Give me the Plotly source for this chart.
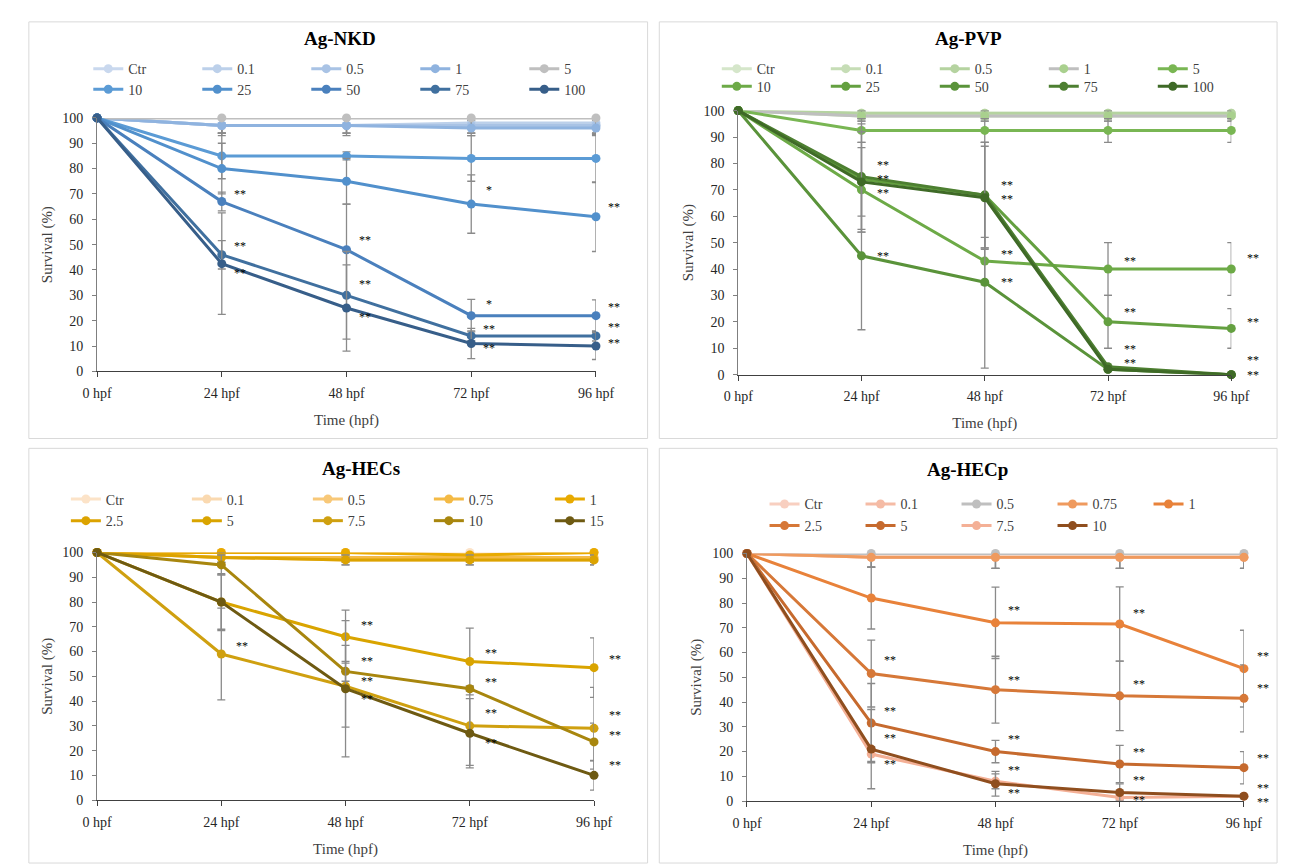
import plotly.graph_objects as go

W, H = 1290, 864
TIMES = ["0 hpf", "24 hpf", "48 hpf", "72 hpf", "96 hpf"]
XI = [0, 1, 2, 3, 4]

# ---------------- Ag-NKD ----------------
nkd_names = ["Ctr", "0.1", "0.5", "1", "5", "10", "25", "50", "75", "100"]
nkd_vals = [
    [100, 97, 97, 97, 97],
    [100, 97, 97, 98, 98],
    [100, 97, 97, 97, 97],
    [100, 97, 97, 96, 96],
    [100, 100, 100, 100, 100],
    [100, 85, 85, 84, 84],
    [100, 80, 75, 66, 61],
    [100, 67, 48, 22, 22],
    [100, 46, 30, 14, 14],
    [100, 42.5, 25, 11, 10],
]
nkd_err = [
    [0, 3, 3, 3, 3],
    [0, 4, 4, 4, 4],
    [0, 3, 3, 3, 3],
    [0, 3, 3, 3, 3],
    [0, 0, 0, 0, 0],
    [0, 9, 1.6, 9, 9.5],
    [0, 10, 9, 11.5, 13.7],
    [0, 3.7, 18, 6.4, 6.2],
    [0, 5.6, 17.3, 2, 2],
    [0, 20, 17, 6, 5.3],
]
nkd_line = ["#C9D8EE", "#BCD0EA", "#A9C3E5", "#8FB3DF", "#BFBFBF",
            "#5B9BD5", "#5190CC", "#4A80BD", "#40709F", "#375E89"]
nkd_marker = nkd_line
nkd_stars = [(1, 70.8, "**"), (1, 50.1, "**"), (1, 39.5, "**"),
             (2, 52.5, "**"), (2, 35.3, "**"), (2, 22.4, "**"),
             (3, 72.4, "*"), (3, 27.5, "*"), (3, 17.4, "**"), (3, 10.1, "**"),
             (4, 65.6, "**"), (4, 26.2, "**"), (4, 18.5, "**"), (4, 12.0, "**")]

# ---------------- Ag-PVP ----------------
pvp_names = ["Ctr", "0.1", "0.5", "1", "5", "10", "25", "50", "75", "100"]
pvp_vals = [
    [100, 99, 99, 99, 99],
    [100, 98, 98, 98, 98],
    [100, 99, 99, 99, 99],
    [100, 98, 98, 98, 98],
    [100, 92.5, 92.5, 92.5, 92.5],
    [100, 70, 43, 40, 40],
    [100, 74, 68, 20, 17.5],
    [100, 45, 35, 2, 0],
    [100, 75, 68, 3, 0],
    [100, 73, 67, 2, 0],
]
pvp_err = [
    [0, 2, 2, 2, 2],
    [0, 2, 2, 2, 2],
    [0, 2, 2, 2, 2],
    [0, 2, 2, 2, 2],
    [0, 4.5, 4.5, 4.5, 4.5],
    [0, 16, 9, 10, 10],
    [0, 14, 20, 10, 7.5],
    [0, 28, 32.5, 0, 0],
    [0, 20, 20, 0, 0],
    [0, 19, 19.5, 0, 0],
]
pvp_line = ["#D5E6CA", "#C6DDB6", "#B5D3A0", "#BFBFBF", "#79B653",
            "#6DAA47", "#64A040", "#5A933A", "#4D7F31", "#3F6A27"]
pvp_marker = ["#D5E6CA", "#C6DDB6", "#B5D3A0", "#A9D08E", "#79B653",
              "#6DAA47", "#64A040", "#5A933A", "#4D7F31", "#3F6A27"]
pvp_stars = [(1, 80.0, "**"), (1, 74.8, "**"), (1, 69.6, "**"), (1, 45.7, "**"),
             (2, 72.7, "**"), (2, 67.1, "**"), (2, 46.6, "**"), (2, 35.7, "**"),
             (3, 43.8, "**"), (3, 24.3, "**"), (3, 10.6, "**"), (3, 5.0, "**"),
             (4, 44.8, "**"), (4, 20.8, "**"), (4, 6.4, "**"), (4, 0.8, "**")]

# ---------------- Ag-HECs ----------------
hecs_names = ["Ctr", "0.1", "0.5", "0.75", "1", "2.5", "5", "7.5", "10", "15"]
hecs_vals = [
    [100, 100, 100, 100, 100],
    [100, 100, 100, 99, 100],
    [100, 98, 97, 97, 97],
    [100, 98, 98, 98, 98],
    [100, 100, 100, 99, 100],
    [100, 98, 97, 97, 97],
    [100, 80, 66, 56, 53.5],
    [100, 59, 46, 30, 29],
    [100, 95, 52, 45, 23.5],
    [100, 80, 45, 27, 10],
]
hecs_err = [
    [0, 2, 2, 2, 2],
    [0, 2, 2, 2, 2],
    [0, 2, 2, 2, 2],
    [0, 2, 2, 2, 2],
    [0, 2, 2, 2, 2],
    [0, 2, 2, 2, 2],
    [0, 11, 10.7, 13.5, 12],
    [0, 18.5, 16.5, 16, 16.5],
    [0, 4, 4, 1, 7.6],
    [0, 11.5, 27.5, 14, 6],
]
hecs_line = ["#FCE3C8", "#FAD9B0", "#F8C878", "#F4BA45", "#E8AA00",
             "#DCA300", "#D9A400", "#CFA010", "#A8860E", "#6E5A12"]
hecs_marker = hecs_line
hecs_stars = [(1, 63.2, "**"),
              (2, 71.4, "**"), (2, 57.0, "**"), (2, 49.1, "**"), (2, 41.8, "**"),
              (3, 60.2, "**"), (3, 48.4, "**"), (3, 35.8, "**"), (3, 23.9, "**"),
              (4, 57.9, "**"), (4, 35.0, "**"), (4, 27.1, "**"), (4, 14.9, "**")]

# ---------------- Ag-HECp ----------------
hecp_names = ["Ctr", "0.1", "0.5", "0.75", "1", "2.5", "5", "7.5", "10"]
hecp_vals = [
    [100, 98.5, 98.5, 98.5, 98.5],
    [100, 98.5, 98.5, 98.5, 98.5],
    [100, 100, 100, 100, 100],
    [100, 98.5, 98.5, 98.5, 98.5],
    [100, 82, 72, 71.5, 53.5],
    [100, 51.5, 45, 42.5, 41.5],
    [100, 31.5, 20, 15, 13.5],
    [100, 19, 8, 1.5, 2],
    [100, 21, 7, 3.5, 2],
]
hecp_err = [
    [0, 4, 4.5, 4.5, 4.5],
    [0, 4, 4.5, 4.5, 4.5],
    [0, 0, 0, 0, 0],
    [0, 4, 4.5, 4.5, 4.5],
    [0, 12.5, 14.4, 15, 15.5],
    [0, 13.5, 13.5, 14, 13.5],
    [0, 16, 4.5, 7.5, 6.5],
    [0, 3, 3, 1, 1],
    [0, 16, 5, 3.5, 1],
]
hecp_line = ["#F8CFC0", "#F5BBA5", "#BFBFBF", "#EF9A5E", "#E8823A",
             "#D67838", "#C66A2E", "#F4B096", "#8F4E1E"]
hecp_marker = hecp_line
hecp_stars = [(1, 57.9, "**"), (1, 37.1, "**"), (1, 26.2, "**"), (1, 15.9, "**"),
              (2, 77.9, "**"), (2, 49.7, "**"), (2, 25.8, "**"), (2, 13.5, "**"), (2, 4.2, "**"),
              (3, 76.8, "**"), (3, 48.1, "**"), (3, 20.5, "**"), (3, 9.3, "**"), (3, 1.3, "**"),
              (4, 59.3, "**"), (4, 46.6, "**"), (4, 18.3, "**"), (4, 6.2, "**"), (4, 0.4, "**")]

SERIF = "Liberation Serif, Times New Roman, serif"


def px_x(p):
    return p / W


def px_y(p):
    return 1 - p / H


panels = [
    dict(title="Ag-NKD", names=nkd_names, vals=nkd_vals, err=nkd_err,
         line=nkd_line, marker=nkd_marker, stars=nkd_stars,
         box=(76, 588, 104.7, 362.7), tpos=(325, 24),
         leg=(67, (55, 76), 64), border=(6, 641, 7, 431), sx=18),
    dict(title="Ag-PVP", names=pvp_names, vals=pvp_vals, err=pvp_err,
         line=pvp_line, marker=pvp_marker, stars=pvp_stars,
         box=(734, 1240, 97.3, 366), tpos=(970, 24),
         leg=(712, (55, 73), 64), border=(653, 1287, 7, 431), sx=22),
    dict(title="Ag-HECs", names=hecs_names, vals=hecs_vals, err=hecs_err,
         line=hecs_line, marker=hecs_marker, stars=hecs_stars,
         box=(76, 586, 547, 799), tpos=(347, 462),
         leg=(44, (493, 515), 76), border=(6, 641, 441, 863), sx=21),
    dict(title="Ag-HECp", names=hecp_names, vals=hecp_vals, err=hecp_err,
         line=hecp_line, marker=hecp_marker, stars=hecp_stars,
         box=(743, 1253, 548, 800), tpos=(969, 463),
         leg=(761, (498, 520), 51), border=(653, 1287, 441, 863), sx=19),
]

fig = go.Figure()
layout = dict(width=W, height=H, autosize=False,
              margin=dict(l=0, r=0, t=0, b=0, pad=0),
              paper_bgcolor="white", plot_bgcolor="white",
              font=dict(family=SERIF, size=14, color="#404040"),
              showlegend=True, annotations=[], shapes=[])

leg_counter = 0
for k, p in enumerate(panels):
    sfx = "" if k == 0 else str(k + 1)
    xa, ya = "x" + sfx, "y" + sfx
    x0, x1, yt, yb = p["box"]
    layout["xaxis" + sfx] = dict(
        domain=[px_x(x0), px_x(x1)], range=[0, 4], anchor=ya,
        tickmode="array", tickvals=XI, ticktext=TIMES,
        showgrid=False, zeroline=False, showline=True, linecolor="#404040", linewidth=1,
        ticks="outside", ticklen=5, tickcolor="#404040",
        tickfont=dict(family=SERIF, size=14, color="#262626"),
        ticklabelstandoff=4,
        title=dict(text="Time (hpf)", font=dict(family=SERIF, size=15, color="#404040"), standoff=14),
        fixedrange=True)
    layout["yaxis" + sfx] = dict(
        domain=[px_y(yb), px_y(yt)], range=[0, 100], anchor=xa,
        tickmode="linear", tick0=0, dtick=10,
        showgrid=False, zeroline=False, showline=True, linecolor="#7f7f7f", linewidth=1,
        ticks="outside", ticklen=4, tickcolor="#7f7f7f",
        tickfont=dict(family=SERIF, size=14, color="#262626"),
        ticklabelstandoff=6,
        title=dict(text="Survival (%)", font=dict(family=SERIF, size=15, color="#404040"), standoff=6),
        fixedrange=True)

    n = len(p["names"])
    half = 5
    lx, rows, ew = p["leg"]
    for r in range(2):
        leg_counter += 1
        lname = "legend" if leg_counter == 1 else "legend" + str(leg_counter)
        layout[lname] = dict(orientation="h", x=px_x(lx), y=px_y(rows[r]),
                             xanchor="left", yanchor="middle",
                             entrywidth=ew, entrywidthmode="pixels",
                             bgcolor="rgba(0,0,0,0)", borderwidth=0,
                             font=dict(family=SERIF, size=14, color="#404040"),
                             traceorder="normal", itemsizing="trace")
        for i in range(r * half, min(n, (r + 1) * half)):
            fig.add_trace(go.Scatter(
                x=XI, y=p["vals"][i], name=p["names"][i], mode="lines+markers",
                xaxis=xa, yaxis=ya, legend=lname, cliponaxis=False,
                line=dict(color=p["line"][i], width=3),
                marker=dict(color=p["marker"][i], size=9),
                error_y=dict(type="data", array=p["err"][i], visible=True,
                             color="#8a8a8a", thickness=1.3, width=4),
                hoverinfo="skip"))

    layout["annotations"].append(dict(
        text="<b>%s</b>" % p["title"], xref="paper", yref="paper",
        x=px_x(p["tpos"][0]), y=px_y(p["tpos"][1]), xanchor="center", yanchor="middle",
        showarrow=False, font=dict(family=SERIF, size=19, color="#000000")))
    for (xi, yv, txt) in p["stars"]:
        layout["annotations"].append(dict(
            text=txt, xref=xa, yref=ya, x=xi, y=yv, xanchor="center", yanchor="middle",
            xshift=p["sx"], yshift=-2, showarrow=False,
            font=dict(family=SERIF, size=12, color="#000000")))
    bx0, bx1, by0, by1 = p["border"]
    layout["shapes"].append(dict(
        type="rect", xref="paper", yref="paper",
        x0=px_x(bx0), x1=px_x(bx1), y0=px_y(by1), y1=px_y(by0),
        line=dict(color="#D9D9D9", width=1), fillcolor="rgba(0,0,0,0)", layer="below"))

fig.update_layout(**layout)
fig.write_html("out.html")
